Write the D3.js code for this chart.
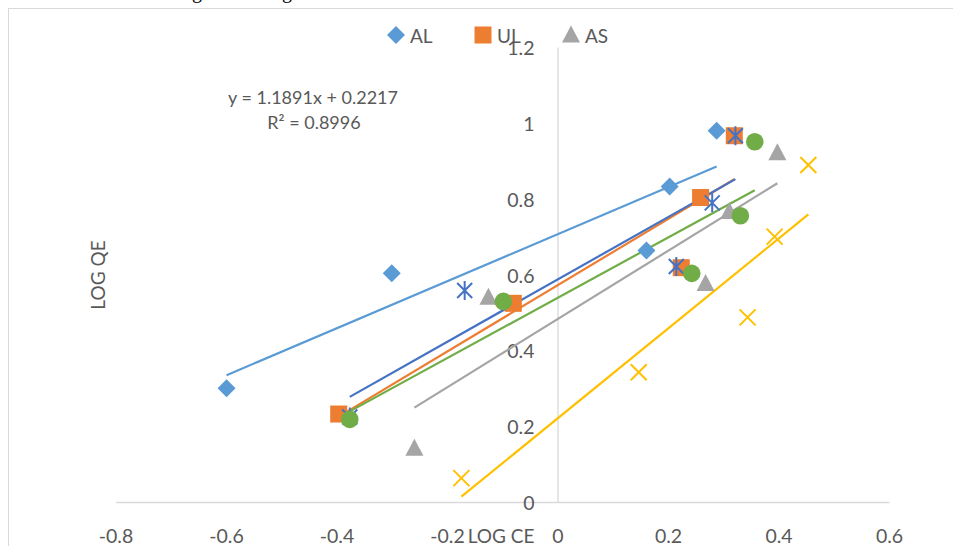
<!DOCTYPE html>
<html><head><meta charset="utf-8">
<script src="https://cdn.jsdelivr.net/npm/d3@7"></script>
<style>body{margin:0;background:#fff;overflow:hidden}svg{display:block}</style>
</head><body>
<svg id="c" width="953" height="546"></svg>
<script>
const xTicks = [-0.8, -0.6, -0.4, -0.2, 0, 0.2, 0.4, 0.6];
const yTicks = [0, 0.2, 0.4, 0.6, 0.8, 1, 1.2];
const legendNames = ["AL", "UL", "AS"];

const alX = [-0.599, -0.300, 0.161, 0.203, 0.288];
const alY = [0.300, 0.603, 0.663, 0.832, 0.979];
const ulX = [-0.396, -0.080, 0.224, 0.259, 0.320];
const ulY = [0.232, 0.524, 0.618, 0.803, 0.966];
const asX = [-0.259, -0.125, 0.268, 0.311, 0.398];
const asY = [0.142, 0.540, 0.576, 0.766, 0.921];
const s4X = [-0.376, -0.168, 0.215, 0.280, 0.322];
const s4Y = [0.224, 0.558, 0.621, 0.789, 0.966];
const s5X = [-0.376, -0.098, 0.243, 0.331, 0.357];
const s5Y = [0.218, 0.529, 0.603, 0.755, 0.950];
const s6X = [-0.174, 0.147, 0.344, 0.393, 0.454];
const s6Y = [0.063, 0.342, 0.487, 0.700, 0.889];

const series = [
  {name:"AL", xs:alX, ys:alY, color:"#5B9BD5", shape:"diamond"},
  {name:"UL", xs:ulX, ys:ulY, color:"#ED7D31", shape:"square"},
  {name:"AS", xs:asX, ys:asY, color:"#A5A5A5", shape:"triangle"},
  {name:"S4", xs:s4X, ys:s4Y, color:"#4472C4", shape:"star"},
  {name:"S5", xs:s5X, ys:s5Y, color:"#70AD47", shape:"circle"},
  {name:"S6", xs:s6X, ys:s6Y, color:"#FFC000", shape:"x"}
];

const svg = d3.select("#c");
const FONT = "Lato, 'Open Sans', sans-serif";
const TXT = "#595959";

// chart frame
svg.append("rect").attr("x", 8.5).attr("y", 8.5).attr("width", 1000).attr("height", 600)
  .attr("fill", "#fff").attr("stroke", "#d9d9d9").attr("stroke-width", 1);

// cut-off text from the document above
svg.append("text").attr("x", 192).attr("y", -2).attr("font-family", "'Liberation Serif', serif")
  .attr("font-size", 20).attr("fill", "#000").text("g");
svg.append("text").attr("x", 282).attr("y", -2).attr("font-family", "'Liberation Serif', serif")
  .attr("font-size", 20).attr("fill", "#000").text("g");

const x = d3.scaleLinear().domain([-0.8, 0.6]).range([115.5, 889]);
const y = d3.scaleLinear().domain([0, 1.2]).range([502, 47]);

// axes
const xAxis = d3.axisBottom(x).tickValues(xTicks).tickSize(0);
const gx = svg.append("g").attr("transform", `translate(0,${y(0)})`).call(xAxis);
gx.select(".domain").attr("stroke", "#d9d9d9").attr("stroke-width", 1.3);
gx.selectAll("text").attr("font-family", FONT).attr("font-size", 19.5).attr("fill", TXT)
  .attr("dy", null).attr("y", 33).attr("dominant-baseline", "central").text(d => String(+d.toFixed(1)));

const yAxis = d3.axisLeft(y).tickValues(yTicks).tickSize(0);
const gy = svg.append("g").attr("transform", `translate(${x(0)},0)`).call(yAxis);
gy.select(".domain").attr("stroke", "#d9d9d9").attr("stroke-width", 1.3);
gy.selectAll("text").attr("font-family", FONT).attr("font-size", 19.5).attr("fill", TXT)
  .attr("x", -23).attr("dy", null).attr("dominant-baseline", "central").attr("text-anchor", "end")
  .text(d => String(+d.toFixed(1)));

// axis titles
svg.append("text").attr("x", 501).attr("y", 535).attr("text-anchor", "middle").attr("dominant-baseline", "central")
  .attr("font-family", FONT).attr("font-size", 19).attr("fill", TXT).text("LOG CE");
svg.append("text").attr("transform", "translate(97,275) rotate(-90)").attr("text-anchor", "middle")
  .attr("dominant-baseline", "central").attr("font-family", FONT).attr("font-size", 19).attr("fill", TXT).text("LOG QE");

// trendlines (least squares)
function fit(xs, ys) {
  const n = xs.length, mx = d3.mean(xs), my = d3.mean(ys);
  let sxy = 0, sxx = 0;
  for (let i = 0; i < n; i++) { sxy += (xs[i]-mx)*(ys[i]-my); sxx += (xs[i]-mx)**2; }
  const m = sxy/sxx; return {m, b: my - m*mx};
}
const line = d3.line().x(d => x(d[0])).y(d => y(d[1]));
series.forEach(s => {
  const f = fit(s.xs, s.ys);
  const [x0, x1] = d3.extent(s.xs);
  svg.append("path").attr("d", line([[x0, f.m*x0+f.b],[x1, f.m*x1+f.b]]))
    .attr("stroke", s.color).attr("stroke-width", 2.2).attr("fill", "none");
});

// markers
function marker(g, shape, color, cx, cy) {
  if (shape === "diamond") {
    g.append("path").attr("d", `M${cx},${cy-9}L${cx+9},${cy}L${cx},${cy+9}L${cx-9},${cy}Z`).attr("fill", color);
  } else if (shape === "square") {
    g.append("rect").attr("x", cx-8.5).attr("y", cy-8.5).attr("width", 17).attr("height", 17).attr("fill", color);
  } else if (shape === "triangle") {
    g.append("path").attr("d", `M${cx},${cy-9.5}L${cx+9},${cy+7.5}L${cx-9},${cy+7.5}Z`).attr("fill", color);
  } else if (shape === "circle") {
    g.append("circle").attr("cx", cx).attr("cy", cy).attr("r", 8.8).attr("fill", color);
  } else if (shape === "x") {
    g.append("path").attr("d", `M${cx-8},${cy-8}L${cx+8},${cy+8}M${cx+8},${cy-8}L${cx-8},${cy+8}`)
      .attr("stroke", color).attr("stroke-width", 2).attr("fill", "none");
  } else if (shape === "star") {
    g.append("path").attr("d", `M${cx-7.5},${cy-7.5}L${cx+7.5},${cy+7.5}M${cx+7.5},${cy-7.5}L${cx-7.5},${cy+7.5}M${cx},${cy-9.5}L${cx},${cy+9.5}`)
      .attr("stroke", color).attr("stroke-width", 2).attr("fill", "none");
  }
}
series.forEach(s => {
  const g = svg.append("g");
  s.xs.forEach((xv, i) => marker(g, s.shape, s.color, x(xv), y(s.ys[i])));
});

// trendline equation label (last series)
svg.append("text").attr("x", 313).attr("y", 97).attr("text-anchor", "middle").attr("dominant-baseline", "central")
  .attr("font-family", FONT).attr("font-size", 18).attr("fill", TXT).text("y = 1.1891x + 0.2217");
svg.append("text").attr("x", 314).attr("y", 122).attr("text-anchor", "middle").attr("dominant-baseline", "central")
  .attr("font-family", FONT).attr("font-size", 18).attr("fill", TXT).text("R² = 0.8996");

// legend
const legX = [396, 483, 571];
const legG = svg.append("g");
series.slice(0, 3).forEach((s, i) => {
  marker(legG, s.shape, s.color, legX[i], 35);
  legG.append("text").attr("x", legX[i] + 14).attr("y", 35).attr("dominant-baseline", "central")
    .attr("font-family", FONT).attr("font-size", 19).attr("fill", TXT).text(legendNames[i]);
});
</script>
</body></html>
